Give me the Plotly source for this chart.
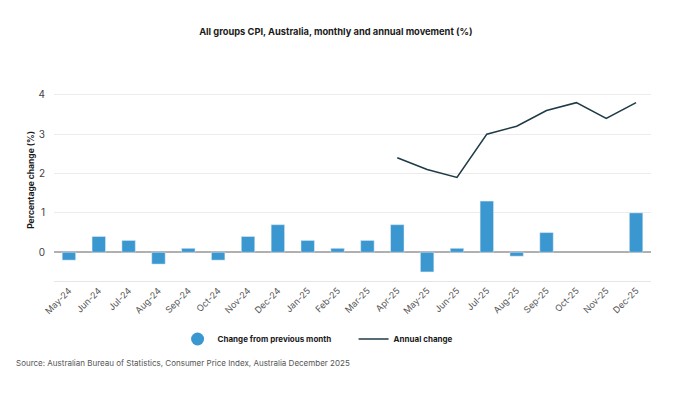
import plotly.graph_objects as go

months = ["May-24", "Jun-24", "Jul-24", "Aug-24", "Sep-24", "Oct-24", "Nov-24", "Dec-24",
          "Jan-25", "Feb-25", "Mar-25", "Apr-25", "May-25", "Jun-25", "Jul-25", "Aug-25",
          "Sep-25", "Oct-25", "Nov-25", "Dec-25"]
monthly_change = [-0.2, 0.4, 0.3, -0.3, 0.1, -0.2, 0.4, 0.7, 0.3, 0.1, 0.3, 0.7,
                  -0.5, 0.1, 1.3, -0.1, 0.5, None, None, 1.0]
annual_months = ["Apr-25", "May-25", "Jun-25", "Jul-25", "Aug-25", "Sep-25", "Oct-25", "Nov-25", "Dec-25"]
annual_change = [2.4, 2.1, 1.9, 3.0, 3.2, 3.6, 3.8, 3.4, 3.8]
y_ticks = [0, 1, 2, 3, 4]

BLUE = "#3b97cf"
DARK = "#1f3b47"
FONT = "Inter"

fig = go.Figure()
fig.add_trace(go.Bar(x=months, y=monthly_change, marker_color=BLUE, width=0.45,
                     name="Change from previous month", showlegend=False))
fig.add_trace(go.Scatter(x=[None], y=[None], mode="markers",
                         marker=dict(symbol="circle", size=13, color=BLUE),
                         name="<b>Change from previous month</b>"))
fig.add_trace(go.Scatter(x=annual_months, y=annual_change, mode="lines",
                         line=dict(color=DARK, width=1.6), name="<b>Annual change</b>"))

# page body has an 8px margin, so the figure is 8px smaller and offsets are reduced by 8
fig.update_layout(
    width=669, height=389,
    margin=dict(l=46, r=26, t=71, b=116, autoexpand=False),
    paper_bgcolor="white", plot_bgcolor="white",
    font=dict(family=FONT, color="#333"),
    title=dict(text="<b>All groups CPI, Australia, monthly and annual movement (%)</b>",
               x=0.49, xanchor="center", y=0.938, yanchor="middle",
               font=dict(size=9.3, color="#1a1a1a", family=FONT)),
    legend=dict(orientation="h", x=0.207, xanchor="left", y=-0.287, yanchor="middle",
                font=dict(size=8, color="#1a1a1a", family=FONT), itemwidth=30,
                entrywidthmode="pixels", entrywidth=131),
    annotations=[dict(text="Source: Australian Bureau of Statistics, Consumer Price Index, Australia December 2025",
                      xref="paper", yref="paper", x=-0.067, y=-0.406, xanchor="left", yanchor="middle",
                      showarrow=False, font=dict(size=8, color="#555", family=FONT))],
)
fig.update_xaxes(type="category", categoryorder="array", categoryarray=months,
                 range=[-0.5, 19.5], tickangle=-45, automargin=False,
                 tickfont=dict(size=9, color="#555", family=FONT),
                 showgrid=False, showline=True, linecolor="#e6e6e6", linewidth=1,
                 ticks="")
fig.update_yaxes(range=[-0.73, 4.4], tickvals=y_ticks, ticktext=[str(v) for v in y_ticks],
                 automargin=False, ticklabelstandoff=8,
                 tickfont=dict(size=10, color="#444", family=FONT),
                 showgrid=True, gridcolor="#ececec", gridwidth=1,
                 zeroline=True, zerolinecolor="#b0b0b0", zerolinewidth=2,
                 title=dict(text="<b>Percentage change (%)</b>", font=dict(size=8.5, color="#1a1a1a", family=FONT),
                            standoff=2))

fig.write_html("out.html")
